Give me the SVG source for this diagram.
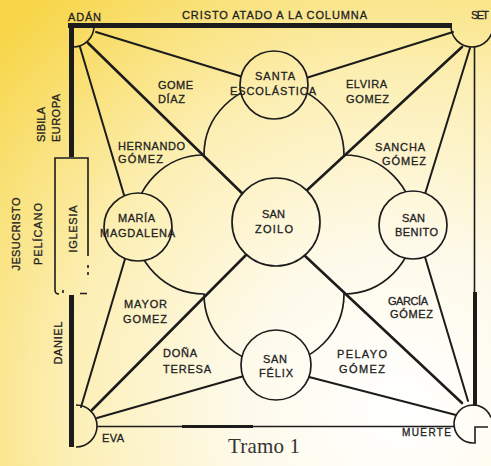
<svg xmlns="http://www.w3.org/2000/svg" width="491" height="466" viewBox="0 0 491 466">
  <defs>
    <radialGradient id="paper" gradientUnits="userSpaceOnUse" cx="400" cy="410" r="540">
      <stop offset="0" stop-color="#ffffff"/>
      <stop offset="0.3" stop-color="#fefaea"/>
      <stop offset="0.62" stop-color="#fcefb4"/>
      <stop offset="1" stop-color="#f7d64a"/>
    </radialGradient>
  </defs>
  <style>
    .ln{stroke:#1c1c1c;fill:none;stroke-width:2;stroke-linecap:round}
    .dg{stroke-width:2.6}
    .wall{stroke:#1c1c1c;fill:none;stroke-width:5}
    .thin{stroke:#1c1c1c;fill:none;stroke-width:1.6}
    .node{fill:url(#paper);stroke:#1c1c1c;stroke-width:1.7}
    text{font-family:"Liberation Sans",Arial,sans-serif;font-size:11px;fill:#222;stroke:#222;stroke-width:0.3}
    .c{text-anchor:middle}
    .title{font-family:"Liberation Serif","Times New Roman",serif;font-size:21px;fill:#333;stroke:none}
  </style>

  <rect x="0" y="0" width="491" height="466" fill="url(#paper)"/>

  <!-- outer walls of the bay -->
  <g id="frame">
    <line class="wall" x1="68" y1="25.5" x2="452" y2="25.5"/>
    <line class="wall" x1="71.5" y1="23" x2="71.5" y2="157"/>
    <line class="wall" x1="71.5" y1="295" x2="71.5" y2="447"/>
    <line class="thin" x1="474.5" y1="47" x2="474.5" y2="292"/>
    <line class="wall" x1="475" y1="292" x2="475" y2="406" style="stroke-width:4"/>
    <line class="thin" x1="97" y1="426.5" x2="454" y2="426.5"/>
    <line class="thin" x1="182" y1="426.5" x2="253" y2="426.5" style="stroke-width:2.8"/>
  </g>

  <!-- church on the left wall -->
  <g id="iglesia">
    <path class="thin" d="M88,256 V158 H55 V290 Q55,294 59,294"/>
    <path class="thin" d="M88,265 V268 M88,272 V275 M80,293.5 H87 M63,290 V293"/>
    <text transform="rotate(-90 77 229)" x="77" y="229" class="c" textLength="47">IGLESIA</text>
  </g>

  <!-- side inscriptions -->
  <g id="side-labels">
    <text transform="rotate(-90 45 142)" x="45" y="142" textLength="35">SIBILA</text>
    <text transform="rotate(-90 60 142)" x="60" y="142" textLength="48">EUROPA</text>
    <text transform="rotate(-90 20 234)" x="20" y="234" class="c" textLength="73">JESUCRISTO</text>
    <text transform="rotate(-90 42 234)" x="42" y="234" class="c" textLength="62">PELÍCANO</text>
    <text transform="rotate(-90 62 343)" x="62" y="343" class="c" textLength="43">DANIEL</text>
    <text x="274.5" y="19" class="c" textLength="185">CRISTO ATADO A LA COLUMNA</text>
  </g>

  <!-- connectors: lobes and radiating lines -->
  <g id="connectors">
    <path class="ln" style="stroke-width:1.7" d="M204,155 A70,70 0 0 1 344,155 A69.5,69.5 0 0 1 344,294 A70,70 0 0 1 204,294 A69.5,69.5 0 0 1 204,155"/>
    <!-- from Adán -->
    <line class="ln" x1="96" y1="32" x2="243" y2="77"/>
    <line class="ln dg" x1="88" y1="43" x2="247" y2="198"/>
    <line class="ln" x1="80" y1="47" x2="124" y2="195"/>
    <!-- from Set -->
    <line class="ln" x1="453" y1="32" x2="306" y2="78"/>
    <line class="ln dg" x1="462" y1="47" x2="305" y2="192"/>
    <line class="ln" x1="470" y1="48" x2="425" y2="194"/>
    <!-- from Eva -->
    <line class="ln" x1="81" y1="407" x2="125" y2="259"/>
    <line class="ln dg" x1="92" y1="410" x2="247" y2="254"/>
    <line class="ln" x1="97" y1="418" x2="244" y2="376"/>
    <!-- from Muerte -->
    <line class="ln" x1="456" y1="415" x2="309" y2="377"/>
    <line class="ln dg" x1="462" y1="403" x2="304" y2="255"/>
    <line class="ln" x1="468" y1="401" x2="425" y2="257"/>
  </g>

  <!-- corner figures -->
  <g id="adan">
    <path class="thin" d="M94,26 A21,21 0 0 1 73,47"/>
    <text x="84.5" y="21" class="c" textLength="33">ADÁN</text>
  </g>
  <g id="set">
    <path class="thin" d="M451,26 A21,21 0 0 0 493,26"/>
    <text x="471" y="19" textLength="18">SET</text>
  </g>
  <g id="eva">
    <path class="thin" d="M76,405 A21,21 0 0 1 76,447"/>
    <text x="102" y="442" textLength="22">EVA</text>
  </g>
  <g id="muerte">
    <path class="thin" d="M490.9,417.5 A19,19 0 1 0 473,443 H475 V427 H488"/>
    <text x="426.5" y="436" class="c" textLength="49" style="font-size:10px">MUERTE</text>
  </g>

  <!-- chapels -->
  <g id="santa-escolastica">
    <circle class="node" cx="274" cy="85" r="34"/>
    <text x="275" y="80" class="c" textLength="40">SANTA</text>
    <text x="273" y="95" class="c" textLength="86">ESCOLÁSTICA</text>
  </g>
  <g id="maria-magdalena">
    <circle class="node" cx="138" cy="227" r="34"/>
    <text x="136.5" y="222" class="c" textLength="37">MARÍA</text>
    <text x="137.5" y="237" class="c" textLength="75">MAGDALENA</text>
  </g>
  <g id="san-zoilo">
    <circle class="node" cx="276" cy="222" r="44"/>
    <text x="273.5" y="218" class="c" textLength="23">SAN</text>
    <text x="274" y="233" class="c" textLength="38">ZOILO</text>
  </g>
  <g id="san-benito">
    <circle class="node" cx="413" cy="225" r="34"/>
    <text x="413.5" y="222" class="c" textLength="23">SAN</text>
    <text x="416.5" y="236" class="c" textLength="43">BENITO</text>
  </g>
  <g id="san-felix">
    <circle class="node" cx="276" cy="365" r="35"/>
    <text x="275" y="363" class="c" textLength="24">SAN</text>
    <text x="276" y="377" class="c" textLength="34">FÉLIX</text>
  </g>

  <!-- burials between the chapels -->
  <g id="gome-diaz">
    <text x="158" y="89" textLength="35">GOME</text>
    <text x="158" y="103" textLength="27">DÍAZ</text>
  </g>
  <g id="elvira-gomez">
    <text x="346" y="88" textLength="41">ELVIRA</text>
    <text x="346" y="103" textLength="43">GOMEZ</text>
  </g>
  <g id="hernando-gomez">
    <text x="118" y="150" textLength="67">HERNANDO</text>
    <text x="118" y="163" textLength="45">GÓMEZ</text>
  </g>
  <g id="sancha-gomez">
    <text x="375" y="151" textLength="50">SANCHA</text>
    <text x="382" y="165" textLength="44">GÓMEZ</text>
  </g>
  <g id="mayor-gomez">
    <text x="124" y="308" textLength="43">MAYOR</text>
    <text x="123" y="323" textLength="44">GOMEZ</text>
  </g>
  <g id="garcia-gomez">
    <text x="388" y="305" textLength="40">GARCÍA</text>
    <text x="390" y="318" textLength="43">GÓMEZ</text>
  </g>
  <g id="dona-teresa">
    <text x="163" y="357" textLength="34">DOÑA</text>
    <text x="163" y="373" textLength="48">TERESA</text>
  </g>
  <g id="pelayo-gomez">
    <text x="337" y="358" textLength="50">PELAYO</text>
    <text x="339" y="373" textLength="46">GÓMEZ</text>
  </g>

  <text class="title" x="228" y="453" textLength="72">Tramo 1</text>
</svg>
